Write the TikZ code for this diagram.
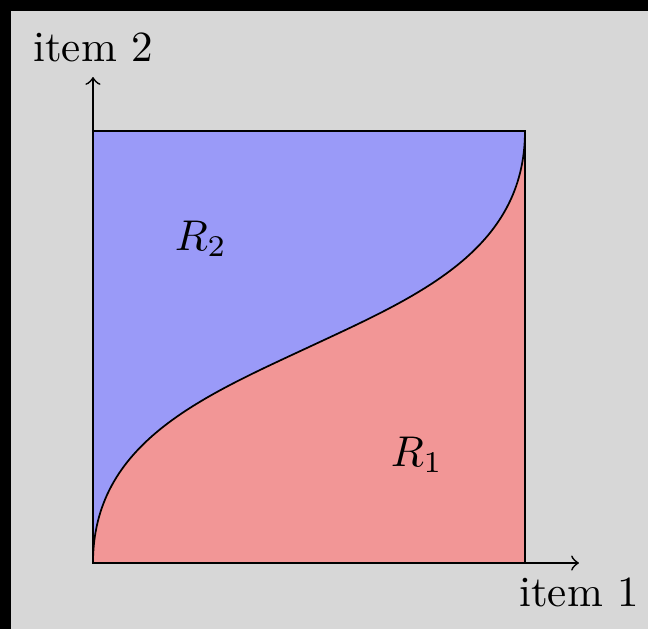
\documentclass[tikz,border=0pt]{standalone}
\usepackage{tikz}
\definecolor{bggray}{RGB}{215,215,215}
\definecolor{regblue}{RGB}{154,154,248}
\definecolor{regred}{RGB}{242,150,150}
\tikzset{
  axisline/.style={->, thin},
  curveline/.style={thin},
  regionlabel/.style={inner sep=0pt}
}
\begin{document}
\begin{tikzpicture}[x=25.1pt,y=25.1pt]
  % background frame
  \fill[black] (-0.861,-0.611) rectangle (5.139,5.213);
  \fill[bggray] (-0.759,-0.611) rectangle (5.139,5.111);
  \useasboundingbox (-0.861,-0.611) rectangle (5.139,5.213);
  % regions
  \fill[regblue] (0,0) rectangle (4,4);
  \fill[regred] (0,0) to[out=90,in=205] (2,2) to[out=25,in=-90] (4,4) -- (4,0) -- cycle;
  \draw[curveline] (0,0) to[out=90,in=205] (2,2) to[out=25,in=-90] (4,4);
  \draw[thin] (0,0) rectangle (4,4);
  % axes
  \coordinate (o) at (0,0);
  \coordinate (xe) at (4.5,0);
  \coordinate (ye) at (0,4.5);
  \draw[axisline] (o) -- (xe);
  \draw[axisline] (o) -- (ye);
  \node[below] (xl) at (xe) {item 1};
  \node[above] (yl) at (ye) {item 2};
  \node[regionlabel] (r2) at (1,3) {$R_2$};
  \node[regionlabel] (r1) at (3,1) {$R_1$};
\end{tikzpicture}
\end{document}
